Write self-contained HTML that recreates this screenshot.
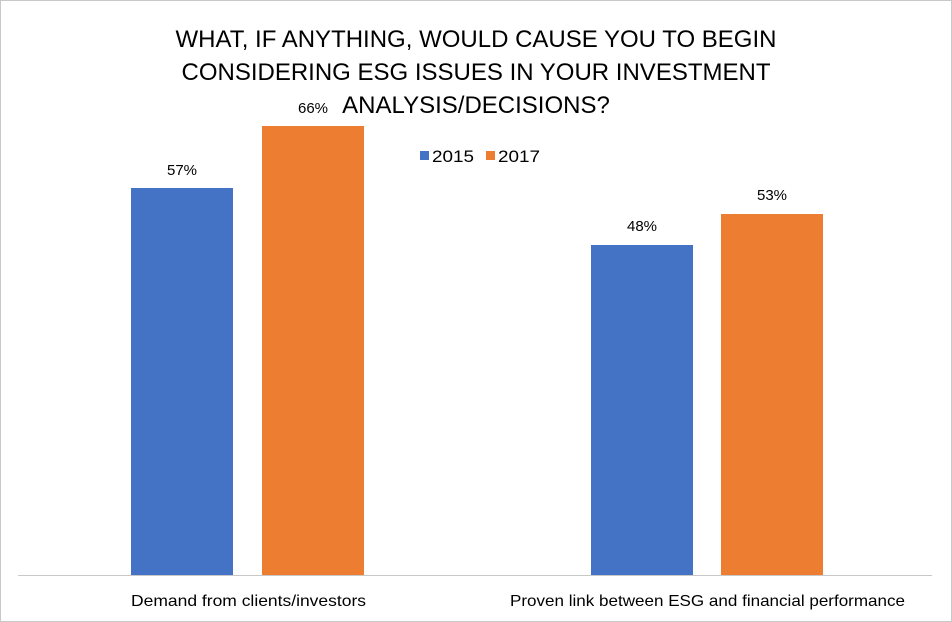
<!DOCTYPE html>
<html><head><style>
body{margin:0;background:#fff}
svg{display:block}
text{font-family:"Liberation Sans",Arial,sans-serif;fill:#000}
</style></head><body>
<svg width="952" height="622" viewBox="0 0 952 622">
<rect x="0.5" y="0.5" width="951" height="621" fill="#fff" stroke="#c8c8c8"/>
<g font-size="24" text-anchor="middle">
<text x="476" y="47">WHAT, IF ANYTHING, WOULD CAUSE YOU TO BEGIN</text>
<text x="476" y="80">CONSIDERING ESG ISSUES IN YOUR INVESTMENT</text>
<text x="476" y="113">ANALYSIS/DECISIONS?</text>
</g>
<rect x="420" y="151" width="9" height="9" fill="#4472c4"/>
<text x="432" y="162" font-size="17" textLength="42" lengthAdjust="spacingAndGlyphs">2015</text>
<rect x="486" y="151" width="9" height="9" fill="#ed7d31"/>
<text x="498" y="162" font-size="17" textLength="42" lengthAdjust="spacingAndGlyphs">2017</text>
<rect x="131" y="188" width="102" height="387" fill="#4472c4"/>
<rect x="262" y="126" width="102" height="449" fill="#ed7d31"/>
<rect x="591" y="245" width="102" height="330" fill="#4472c4"/>
<rect x="721" y="214" width="102" height="361" fill="#ed7d31"/>
<g font-size="15" text-anchor="middle">
<text x="182" y="175">57%</text>
<text x="313" y="113">66%</text>
<text x="642" y="231">48%</text>
<text x="772" y="200">53%</text>
</g>
<text x="131" y="606" font-size="16" textLength="235" lengthAdjust="spacingAndGlyphs">Demand from clients/investors</text>
<text x="510" y="606" font-size="16" textLength="395" lengthAdjust="spacingAndGlyphs">Proven link between ESG and financial performance</text>
<line x1="18" y1="575.5" x2="932" y2="575.5" stroke="#c8c8c8" stroke-width="1"/>
</svg>
</body></html>
